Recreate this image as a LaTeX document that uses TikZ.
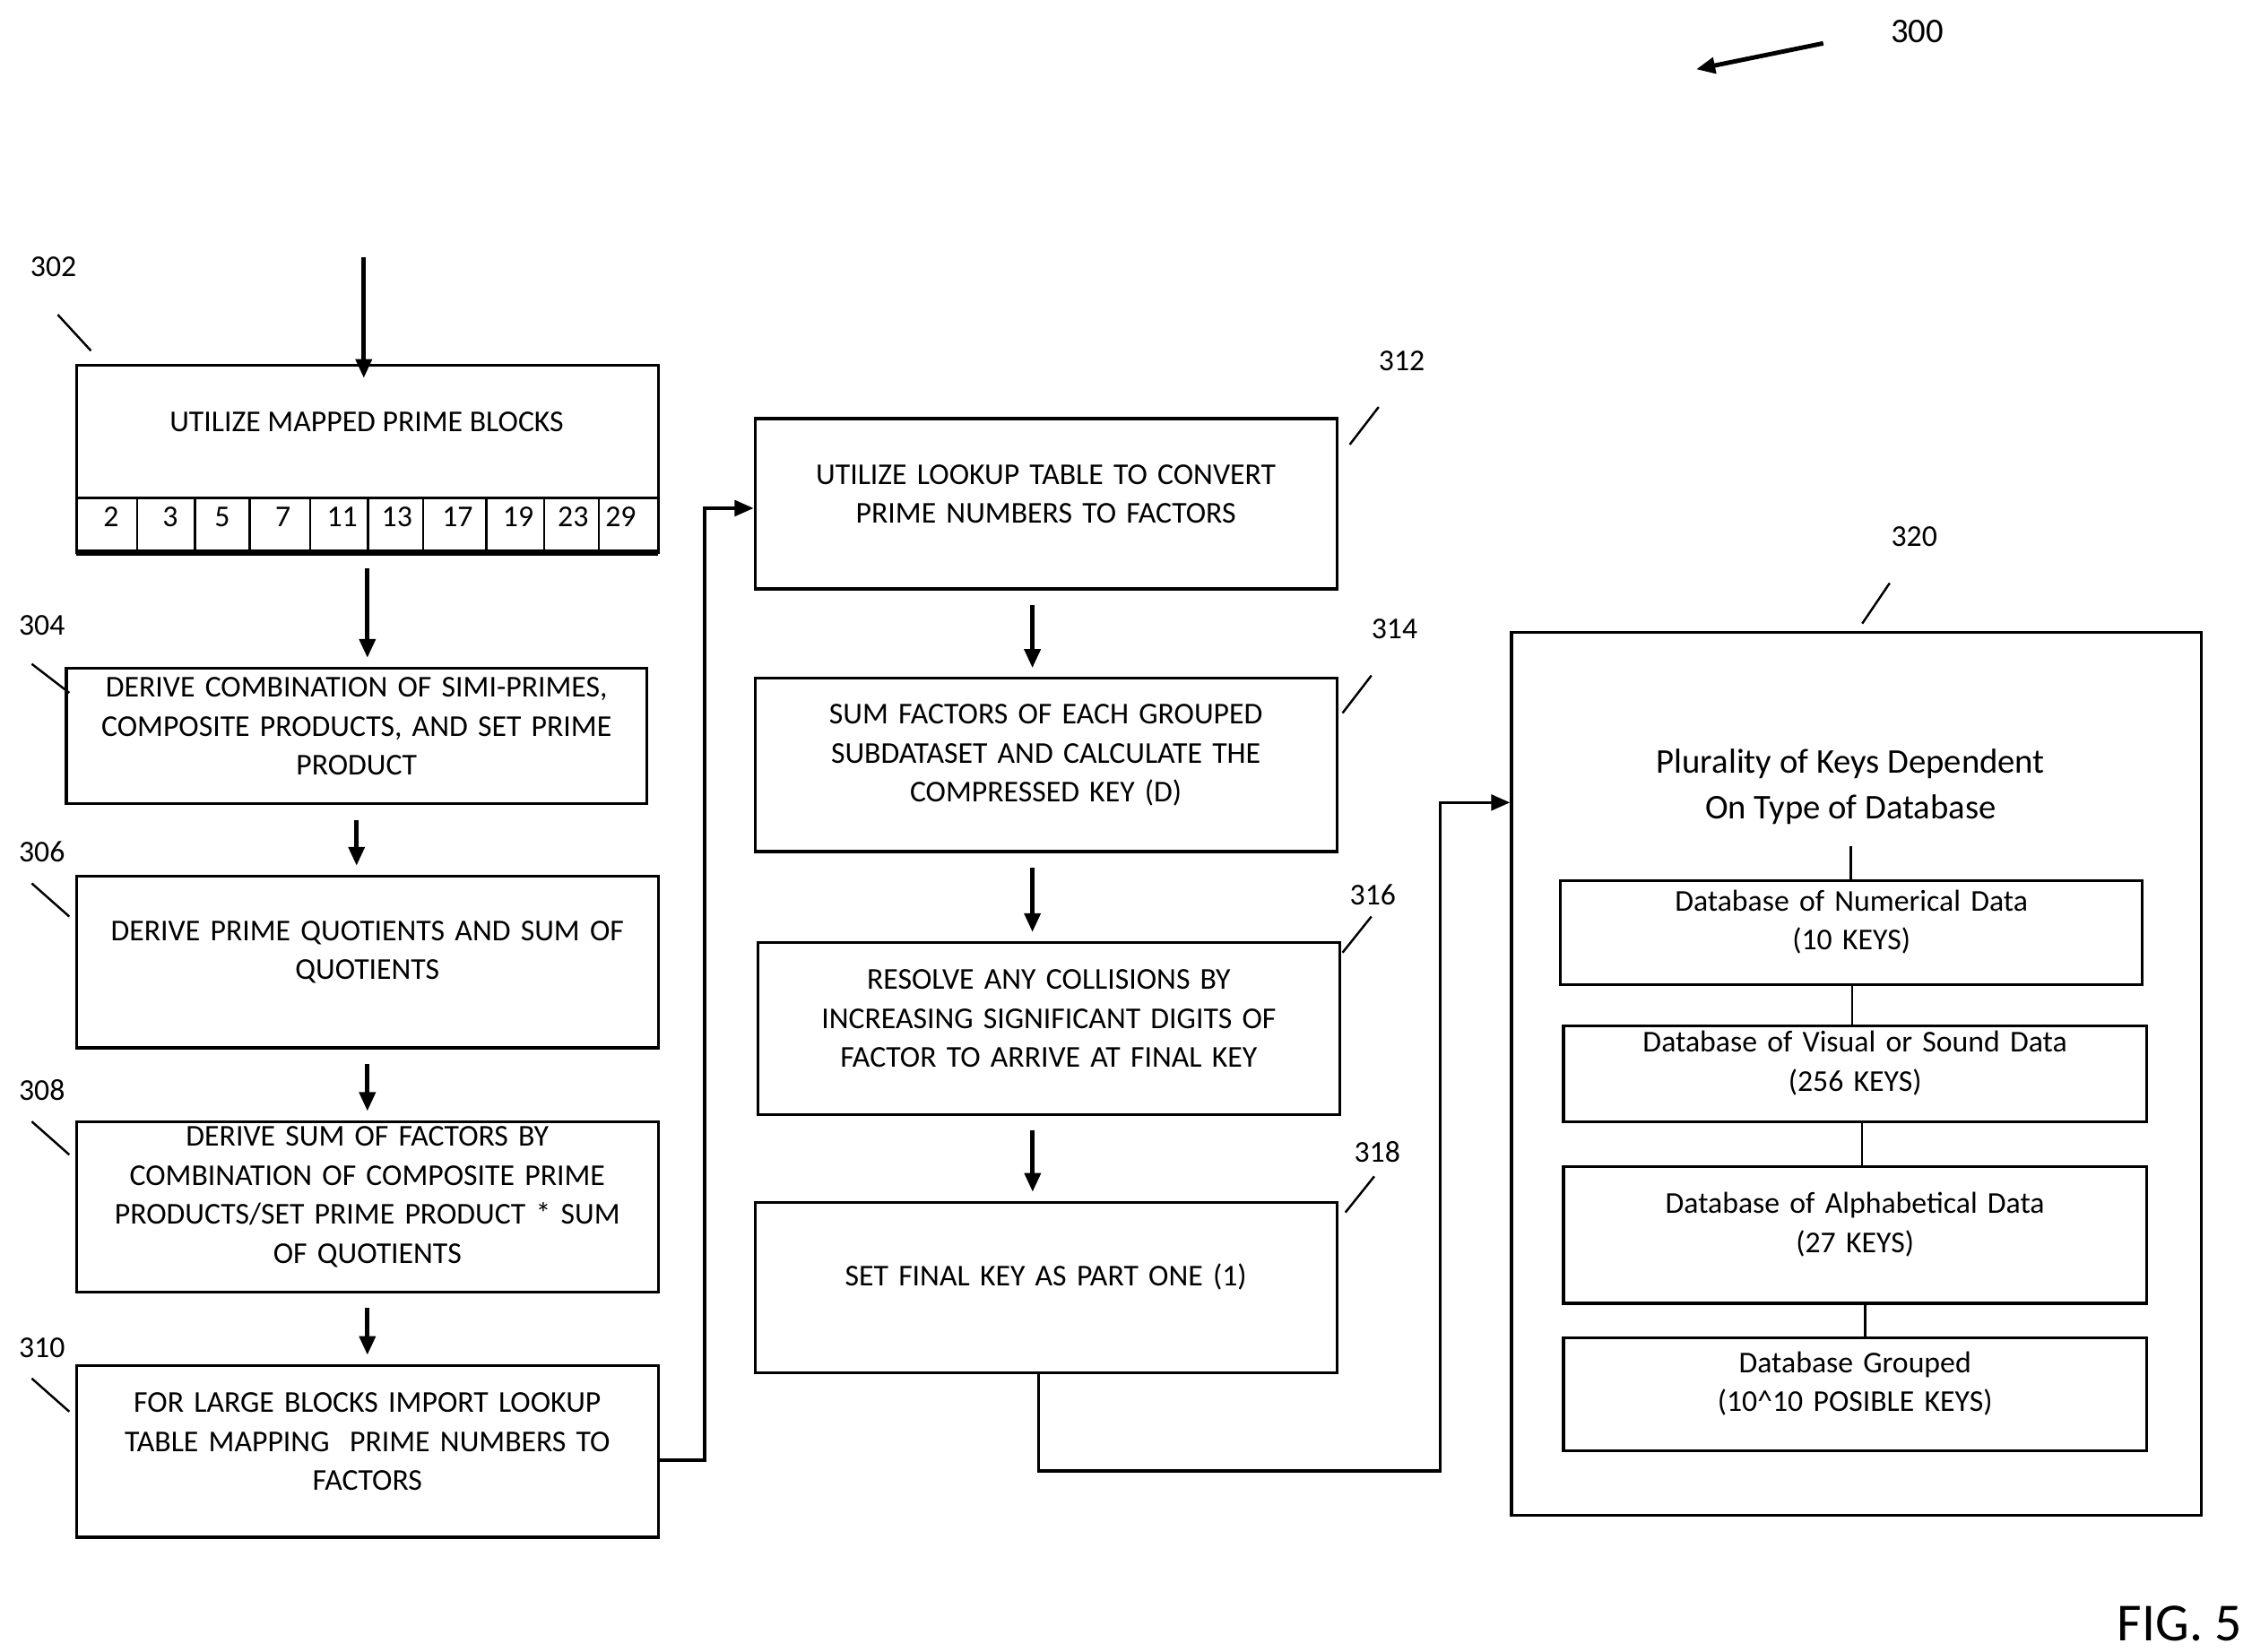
\documentclass[tikz,border=0pt]{standalone}
\usepackage{fontspec}
\setmainfont{Carlito}
\usetikzlibrary{arrows.meta, positioning, fit, calc}

\begin{document}
\begin{tikzpicture}[x=0.0161cm, y=-0.0161cm,
    box/.style={draw, line width=0.9pt, inner sep=0pt},
    boxtext/.style={align=center, font=\fontsize{9.6}{12.4pt}\selectfont},
    flow/.style={line width=1.4pt, -{Triangle[length=6pt, width=5pt]},
      shorten <=0.16cm, shorten >=0.1cm},
    elbow/.style={line width=1pt, -{Triangle[length=6pt, width=5pt]}},
    tick/.style={line width=0.7pt},
    reflabel/.style={font=\fontsize{9.6}{12pt}\selectfont},
    link/.style={line width=0.7pt} ]

    \useasboundingbox (0,0) rectangle (1560,1144);

    % Figure number and pointer
    \node[font=\fontsize{11}{13pt}\selectfont] (n300) at (1328,22) {300};
    \draw[line width=1.4pt, -{Triangle[length=6pt, width=5pt]}] (1263,30) -- (1175,48);
    \node[font=\fontsize{17}{20pt}\selectfont] (fig) at (1510,1125) {FIG. 5};

    % Left column
    \coordinate (in) at (252,178);
    \node[box, fit={(53,253) (456,383)}] (b302) {};
    \node[boxtext] (t302) at (254,292) {UTILIZE MAPPED PRIME BLOCKS};
    \draw[link] (53,345) -- (456,345);
    \draw[line width=2pt] (53,383) -- (456,383);
    \foreach \x in {95,135,173,215,255,293,337,377,415}
      \draw[link] (\x,345) -- (\x,383);
    \foreach \p/\x in {2/77,3/118,5/154,7/196,11/237,13/275,17/317,19/359,23/397,29/430}
      \node[boxtext] at (\x,358) {\p};

    \node[box, fit={(46,463) (448,557)}, boxtext] (b304) {DERIVE COMBINATION OF SIMI-PRIMES,\\COMPOSITE PRODUCTS, AND SET PRIME\\PRODUCT};
    \node[box, fit={(53,607) (456,726)}, boxtext] (b306) {DERIVE PRIME QUOTIENTS AND SUM OF\\QUOTIENTS};
    \node[box, fit={(53,777) (456,895)}, boxtext] (b308) {DERIVE SUM OF FACTORS BY\\COMBINATION OF COMPOSITE PRIME\\PRODUCTS/SET PRIME PRODUCT * SUM\\OF QUOTIENTS};
    \node[box, fit={(53,946) (456,1065)}, boxtext] (b310) {FOR LARGE BLOCKS IMPORT LOOKUP\\TABLE MAPPING\ \ PRIME NUMBERS TO\\FACTORS};

    % Middle column
    \node[box, fit={(523,290) (926,408)}, boxtext] (b312) {UTILIZE LOOKUP TABLE TO CONVERT\\PRIME NUMBERS TO FACTORS};
    \node[box, fit={(523,470) (926,590)}, boxtext] (b314) {SUM FACTORS OF EACH GROUPED\\SUBDATASET AND CALCULATE THE\\COMPRESSED KEY (D)};
    \node[box, fit={(525,653) (928,772)}, boxtext] (b316) {RESOLVE ANY COLLISIONS BY\\INCREASING SIGNIFICANT DIGITS OF\\FACTOR TO ARRIVE AT FINAL KEY};
    \node[box, fit={(523,833) (926,951)}, boxtext] (b318) {SET FINAL KEY AS PART ONE (1)};

    % Right block
    \node[box, fit={(1047,438) (1525,1050)}] (b320) {};
    \node[align=center, font=\fontsize{11}{14.5pt}\selectfont] (t320) at (1282,545) {Plurality of Keys Dependent\\On Type of Database};
    \node[box, fit={(1081,610) (1484,682)}, boxtext] (s1) {Database of Numerical Data\\(10 KEYS)};
    \node[box, fit={(1083,711) (1487,777)}, boxtext] (s2) {Database of Visual or Sound Data\\(256 KEYS)};
    \node[box, fit={(1083,808) (1487,903)}, boxtext] (s3) {Database of Alphabetical Data\\(27 KEYS)};
    \node[box, fit={(1083,927) (1487,1005)}, boxtext] (s4) {Database Grouped\\(10\^{}10 POSIBLE KEYS)};
    \draw[link] (1282,586) -- (s1.north -| 1282,0);
    \draw[link] (s1.south -| 1283,0) -- (s2.north -| 1283,0);
    \draw[link] (s2.south -| 1290,0) -- (s3.north -| 1290,0);
    \draw[link] (s3.south -| 1292,0) -- (s4.north -| 1292,0);

    % Reference numerals with ticks
    \foreach \n/\lx/\ly/\ax/\ay/\bx/\by in {
        302/37/185/40/218/63/243, 304/29/433/22/460/48/480,
        306/29/590/22/612/48/635, 308/29/755/22/777/48/800,
        310/29/934/22/955/48/978, 312/971/250/935/308/955/282,
        314/966/436/930/494/950/468, 316/951/620/930/660/950/635,
        318/954/798/932/840/952/815, 320/1326/372/1290/432/1309/404} {
      \node[reflabel] (r\n) at (\lx,\ly) {\n};
      \draw[tick] (\ax,\ay) -- (\bx,\by);
    }

    % Flow arrows
    \draw[line width=1.4pt, -{Triangle[length=6pt, width=5pt]}] (in) -- ([yshift=-0.16cm]in |- b302.north);
    \draw[flow] (b302.south) -- (b302.south |- b304.north);
    \draw[flow] (b304.south) -- (b304.south |- b306.north);
    \draw[flow] (b306.south) -- (b306.south |- b308.north);
    \draw[flow] (b308.south) -- (b308.south |- b310.north);
    \draw[flow] ([xshift=-0.15cm]b312.south) -- ([xshift=-0.15cm]b312.south |- b314.north);
    \draw[flow] ([xshift=-0.15cm]b314.south) -- ([xshift=-0.15cm]b314.south |- b316.north);
    \draw[flow] ([xshift=-0.18cm]b316.south) -- ([xshift=-0.18cm]b316.south |- b318.north);

    % Elbow connectors
    \draw[elbow] ([yshift=-0.1cm]b310.east) -- ++(31,0) |- ([yshift=-0.05cm]b312.west);
    \draw[elbow] ([xshift=-0.08cm]b318.south) -- ++(0,67) -- ++(278,0) |- ($(b320.north west)+(0,119)$);

\end{tikzpicture}
\end{document}
